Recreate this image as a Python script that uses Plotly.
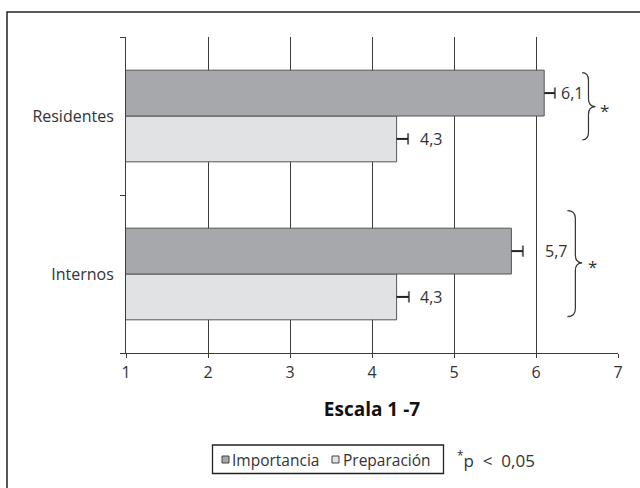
import plotly.graph_objects as go

# Mean scores (scale 1-7) per group, with upper error margins
groups = ["Internos", "Residentes"]
importancia = [5.7, 6.1]
preparacion = [4.3, 4.3]
err_importancia = [0.14, 0.13]
err_preparacion = [0.15, 0.14]
value_text_imp = ["5,7", "6,1"]
value_text_prep = ["4,3", "4,3"]
x_ticks = [1, 2, 3, 4, 5, 6, 7]
series_names = ["Importancia", "Preparación"]
series_colors = ["#a7a8ab", "#e1e2e4"]

FONT = "Open Sans"
TXT = "#333333"
LINE = "#3c3c3c"
BAR_W = 0.29  # width of each bar in category units (two bars per group)

W, H = 640, 488
ML, MR, MT, MB = 126, 22, 37, 135
PW, PH = W - ML - MR, H - MT - MB


def px(x):
    """horizontal pixel -> paper fraction"""
    return (x - ML) / PW


def py(y):
    """vertical pixel (from top) -> paper fraction"""
    return (H - MB - y) / PH


ypos = list(range(len(groups)))

fig = go.Figure()
# Preparación first so it sits below Importancia within each group
fig.add_trace(go.Bar(
    name=series_names[1], y=ypos, x=preparacion, orientation="h",
    marker=dict(color=series_colors[1], line=dict(color="#555555", width=1)),
    hoverinfo="skip",
))
fig.add_trace(go.Bar(
    name=series_names[0], y=ypos, x=importancia, orientation="h",
    marker=dict(color=series_colors[0], line=dict(color="#555555", width=1)),
    hoverinfo="skip",
))


def whiskers(values, errs, offset):
    """one-sided error whiskers: a segment from the bar end with a cap at the tip"""
    xs, ys, sizes = [], [], []
    for i, (v, e) in enumerate(zip(values, errs)):
        xs += [v, v + e, None]
        ys += [i + offset, i + offset, None]
        sizes += [0, 8, 0]
    return go.Scatter(x=xs, y=ys, mode="lines+markers", hoverinfo="skip",
                      line=dict(color="#222222", width=2),
                      marker=dict(symbol="line-ns", size=sizes,
                                  line=dict(color="#222222", width=2)))


fig.add_trace(whiskers(preparacion, err_preparacion, -BAR_W / 2))
fig.add_trace(whiskers(importancia, err_importancia, BAR_W / 2))

annotations = []
# value labels to the right of each error whisker
imp_shift = [20, 4]
prep_shift = [9, 10]
for i in ypos:
    annotations.append(dict(
        x=importancia[i] + err_importancia[i], y=i + BAR_W / 2, xref="x", yref="y",
        text=value_text_imp[i], showarrow=False, xanchor="left", yanchor="middle",
        xshift=imp_shift[i], font=dict(family=FONT, size=16, color=TXT)))
    annotations.append(dict(
        x=preparacion[i] + err_preparacion[i], y=i - BAR_W / 2, xref="x", yref="y",
        text=value_text_prep[i], showarrow=False, xanchor="left", yanchor="middle",
        xshift=prep_shift[i], font=dict(family=FONT, size=16, color=TXT)))

# significance braces: (x_open, x_stem, x_tip, y_top, y_tip, y_bot) per group
braces = [
    (6.383, 6.48, 6.563, 0.401, 0.070, -0.270),
    (6.563, 6.64, 6.725, 1.274, 1.059, 0.848),
]
star_x = [6.69, 6.83]


def brace_path(x0, xs, xt, yt, ym, yb, r=0.05):
    return (f"M {x0},{yt} Q {xs},{yt} {xs},{yt - r} L {xs},{ym + r} "
            f"Q {xs},{ym} {xt},{ym} Q {xs},{ym} {xs},{ym - r} "
            f"L {xs},{yb + r} Q {xs},{yb} {x0},{yb}")


shapes = []
for i, b in enumerate(braces):
    shapes.append(dict(type="path", xref="x", yref="y", path=brace_path(*b),
                       line=dict(color="#333333", width=1.2)))
    annotations.append(dict(x=star_x[i], y=b[4], xref="x", yref="y", text="*",
                            showarrow=False, yshift=-4,
                            font=dict(family=FONT, size=17, color=TXT)))

# outer frame around the whole figure
shapes.append(dict(type="rect", xref="paper", yref="paper",
                   x0=px(7), x1=px(700), y0=py(560), y1=py(12),
                   line=dict(color="#222222", width=1.5), layer="below"))

# legend box with small square keys
shapes.append(dict(type="rect", xref="paper", yref="paper",
                   x0=px(212.5), x1=px(443.5), y0=py(473.5), y1=py(445),
                   line=dict(color="#222222", width=1.3), fillcolor="white"))
key_x = [(222, 229), (332, 339)]
text_x = [230, 341]
for k in range(2):
    shapes.append(dict(type="rect", xref="paper", yref="paper",
                       x0=px(key_x[k][0]), x1=px(key_x[k][1]), y0=py(463), y1=py(456),
                       line=dict(color="#444444", width=1), fillcolor=series_colors[k]))
    annotations.append(dict(x=px(text_x[k]), y=py(459.5), xref="paper", yref="paper",
                            text=series_names[k], showarrow=False,
                            xanchor="left", yanchor="middle",
                            font=dict(family=FONT, size=15.5, color=TXT)))

annotations.append(dict(x=px(455), y=py(459), xref="paper", yref="paper",
                        text="<sup>*</sup>p&nbsp; &lt;&nbsp; 0,05", showarrow=False,
                        xanchor="left", yanchor="middle",
                        font=dict(family=FONT, size=17, color=TXT)))

fig.update_layout(
    width=W, height=H,
    margin=dict(l=ML, r=MR, t=MT, b=MB),
    paper_bgcolor="white", plot_bgcolor="white",
    barmode="group", bargap=0.42, bargroupgap=0,
    font=dict(family=FONT, size=16, color=TXT),
    showlegend=False,
    shapes=shapes, annotations=annotations,
)
fig.update_xaxes(range=[1, 7], tickvals=x_ticks, ticktext=[str(t) for t in x_ticks],
                 showgrid=True, gridcolor=LINE, gridwidth=1, zeroline=False,
                 showline=True, linecolor=LINE, linewidth=1,
                 ticks="outside", ticklen=4, tickcolor=LINE,
                 ticklabelstandoff=1,
                 tickfont=dict(family=FONT, size=16, color=TXT),
                 title=dict(text="<b>Escala 1 -7</b>", standoff=20,
                            font=dict(family=FONT, size=19, color="#111111")))
fig.update_yaxes(range=[-0.5, 1.5], tickmode="array", tickvals=ypos, ticktext=groups,
                 ticks="", showgrid=False, zeroline=False,
                 showline=True, linecolor=LINE, linewidth=1,
                 minor=dict(tickmode="array", tickvals=[-0.5, 0.5, 1.5],
                            ticks="outside", ticklen=5, tickcolor=LINE, showgrid=False),
                 ticklabelstandoff=8,
                 tickfont=dict(family=FONT, size=16, color=TXT))

fig.write_html("out.html")
